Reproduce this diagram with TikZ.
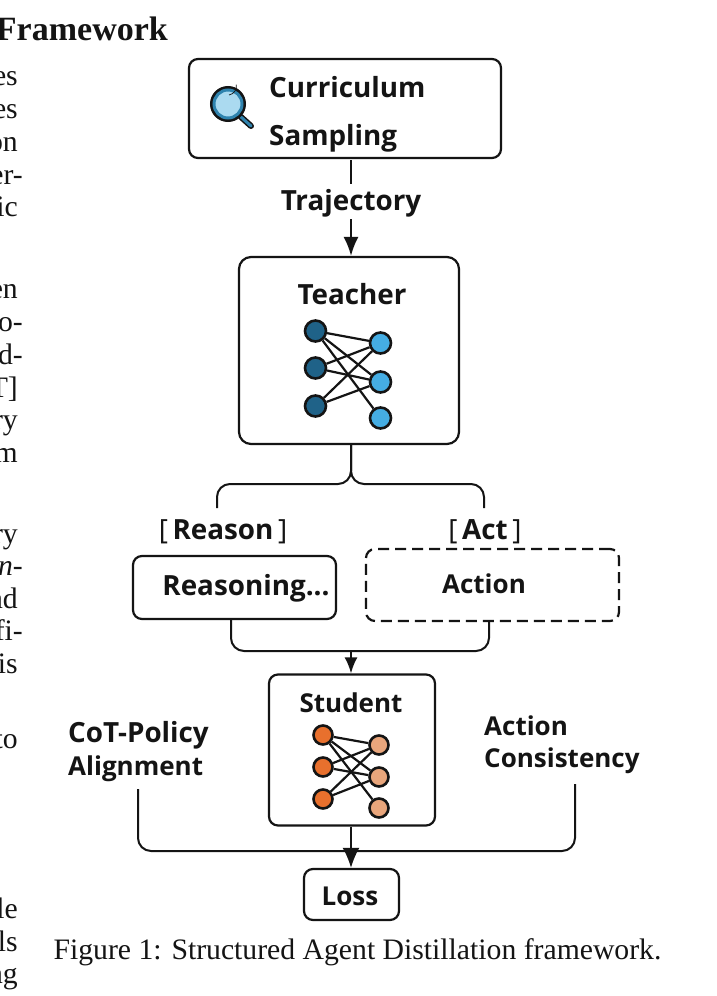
\documentclass[tikz,border=0pt]{standalone}
\usepackage{fontspec}
\setmainfont{Liberation Serif}
\newfontfamily\lblfont{Open Sans}
\usetikzlibrary{arrows.meta}
\definecolor{ink}{HTML}{141414}
\definecolor{tdark}{HTML}{1F6288}
\definecolor{tlight}{HTML}{45ADE3}
\definecolor{sdark}{HTML}{E8702D}
\definecolor{slight}{HTML}{E9A67C}
\definecolor{lensring}{HTML}{2F83AE}
\definecolor{lensglass}{HTML}{ABDAF0}
\tikzset{
  panel/.style={draw=ink,line width=2.2pt,rounded corners=9pt,fill=white,inner sep=0pt},
  lbl/.style={font=\lblfont\bfseries\fontsize{26}{30}\selectfont,text=ink,inner sep=1pt},
  biglbl/.style={font=\lblfont\bfseries\fontsize{27.8}{30}\selectfont,text=ink,inner sep=1pt},
  wire/.style={draw=ink,line width=2pt,rounded corners=13pt},
  arrowwire/.style={wire,-{Latex[length=19pt,width=15pt]}},
  neuron/.style={circle,draw=ink,line width=2.6pt,minimum size=21pt,inner sep=0pt},
  smallneuron/.style={neuron,minimum size=19pt},
  syn/.style={draw=ink,line width=2.2pt},
  para/.style={font=\fontsize{29.7}{32}\selectfont,text=ink,inner sep=0pt,anchor=base east},
}
\begin{document}
\begin{tikzpicture}[x=1pt,y=-1pt]
\useasboundingbox (0,0) rectangle (717,996);
\clip (0,0) rectangle (717,996);
\fill[white] (0,0) rectangle (717,996);

% body text fragments
\node[font=\bfseries\fontsize{34}{36}\selectfont,text=ink,inner sep=0pt,anchor=base east] (head) at (168,40) {Framework};
\foreach \n/\t/\x/\y in {a1/es/18/85,a2/es/18/118,a3/on/18/151,a4/er-/23/184,a5/ic/18/216,
  b1/en/18/298,b2/o-/23/331,b3/d-/23/364,b4/T]/18/397,b5/ry/18/429,b6/m/18/462,
  c1/ry/18/543,c3/nd/18/608,c4/fi-/23/640,c5/is/18/673,
  d1/to/18/748,e1/le/18/918,e2/ls/18/951,e3/ng/18/983}
  \node[para] (\n) at (\x,\y) {\t};
\node[para] (c2) at (23,575) {\itshape n-};

% boxes
\node[panel,minimum width=312pt,minimum height=99pt] (cur) at (345,108.5) {};
\node[panel,minimum width=220pt,minimum height=187pt,rounded corners=12pt] (tea) at (349,350.5) {};
\node[panel,minimum width=203pt,minimum height=63pt] (rsn) at (234.5,587.5) {};
\node[panel,dashed,dash pattern=on 11pt off 6pt,minimum width=253pt,minimum height=72pt] (act) at (492.5,585) {};
\node[panel,minimum width=166pt,minimum height=151pt] (stu) at (352,750) {};
\node[panel,minimum width=95pt,minimum height=51pt] (los) at (351.5,894.5) {};

% box text
\node[biglbl,anchor=west] (t1) at (268,87) {Curriculum};
\node[biglbl,anchor=west] (t2) at (268,138) {Sampling};
\node[biglbl] (traj) at (351,203) {Trajectory};
\node[biglbl] (teat) at (352,294) {Teacher};
\node[biglbl] (rsnl) at (223,532) {\lblfont\mdseries[\,\bfseries Reason\,\mdseries]};
\node[biglbl] (actl) at (485,532) {\lblfont\mdseries[\,\bfseries Act\,\mdseries]};
\node[biglbl] (rsnt) at (246,588) {Reasoning...};
\node[lbl] (actt) at (484,584) {Action};
\node[lbl] (stut) at (351,703) {Student};
\node[lbl] (lost) at (350,896) {Loss};
\node[biglbl,anchor=west] (cp1) at (67,735) {CoT-Policy};
\node[lbl,anchor=west] (cp2) at (67,769) {Alignment};
\node[lbl,anchor=west] (ac1) at (483,726) {Action};
\node[lbl,anchor=west] (ac2) at (483,761) {Consistency};

% magnifier
\draw[ink,line width=6pt,line cap=round] (241,117) -- (251,126);
\draw[lensring,line width=3pt,line cap=round] (241,117) -- (251,126);
\node[circle,draw=ink,line width=5pt,minimum size=31pt,inner sep=0pt] (lens) at (228,104) {};
\node[circle,draw=lensring,fill=lensglass,line width=3pt,minimum size=28pt,inner sep=0pt] (lensin) at (228,104) {};
\draw[ink,line width=0.7pt] (229,95) arc (-80:10:9pt);

% connectors
\coordinate (j1) at (351,484);
\coordinate (bl) at (217,508);
\coordinate (br) at (484,508);
\draw[wire] (351,444) -- (j1) -| (bl);
\draw[wire] (351,444) -- (j1) -| (br);
\coordinate (m1) at (231,651);
\coordinate (m2) at (489,651);
\draw[wire] (231,619) -- (m1) -- (m2) -- (489,621);
\draw[wire] (351,160) -- (351,184);
\coordinate (tj) at (351,219);
\draw[arrowwire] (tj) -- (tea.north -| tj);
\coordinate (mm) at (351,651);
\draw[arrowwire,-{Latex[length=16pt,width=13pt]}] (mm) -- (stu.north -| mm);
\coordinate (lc) at (138,789);
\coordinate (rc) at (575,784);
\coordinate (bm) at (351,851);
\draw[wire] (lc) -- (138,851) -- (575,851) -- (rc);
\draw[arrowwire,-{Latex[length=20pt,width=17pt]}] (stu.south -| bm) -- (los.north -| bm);

% teacher network
\foreach \n/\y in {tl1/331,tl2/368,tl3/406}
  \node[neuron,fill=tdark] (\n) at (315.5,\y) {};
\foreach \n/\y in {tr1/343,tr2/382,tr3/418}
  \node[neuron,fill=tlight] (\n) at (380.5,\y) {};
\foreach \a/\b in {tl1/tr1,tl1/tr2,tl1/tr3,tl2/tr1,tl2/tr2,tl3/tr1,tl3/tr2}
  \draw[syn] (\a) -- (\b);
% student network
\foreach \n/\y in {sl1/735,sl2/767,sl3/799}
  \node[smallneuron,fill=sdark] (\n) at (323,\y) {};
\foreach \n/\y in {sr1/745,sr2/777,sr3/808}
  \node[smallneuron,fill=slight] (\n) at (379,\y) {};
\foreach \a/\b in {sl1/sr1,sl1/sr2,sl1/sr3,sl2/sr1,sl2/sr2,sl3/sr1,sl3/sr2}
  \draw[syn] (\a) -- (\b);

% caption
\node[font=\fontsize{29.7}{32}\selectfont,text=ink,inner sep=0pt,anchor=base] (cap) at (357.5,959) {Figure 1: Structured Agent Distillation framework.};
\end{tikzpicture}
\end{document}
